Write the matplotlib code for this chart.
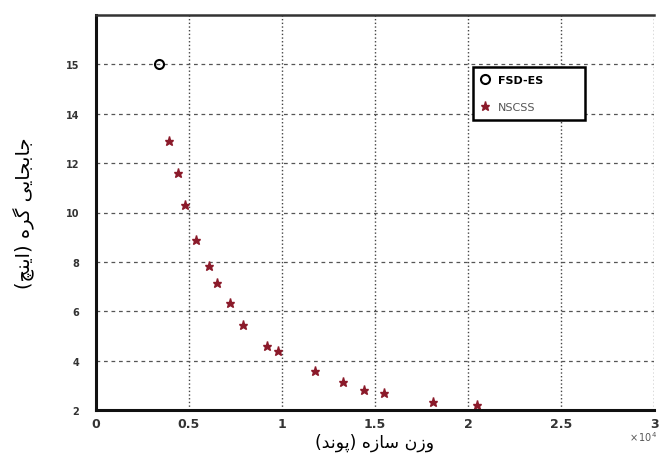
import matplotlib
matplotlib.use("Agg")
import matplotlib.pyplot as plt
from matplotlib.ticker import FuncFormatter

# ----------------------------
# Data
# ----------------------------
fsd_weight = [3400]
fsd_disp = [16.0]

nscss_weight = [3900, 4400, 4800, 5400, 6100, 6500, 7200, 7900,
                9200, 9800, 11800, 13300, 14400, 15500, 18100, 20500]
nscss_disp = [12.9, 11.6, 10.3, 8.87, 7.82, 7.13, 6.35, 5.46,
              4.6, 4.4, 3.6, 3.14, 2.81, 2.69, 2.33, 2.2]

y_ticks = [2, 4, 6, 8, 10, 12, 14, 16]
y_tick_labels = ['2', '4', '6', '8', '10', '12', '14', '15']
x_ticks = [0, 5000, 10000, 15000, 20000, 25000, 30000]

x_label = "وزن سازه (پوند)"
y_label = "جابجایی گره (اینچ)"

# ----------------------------
# Minimal Persian shaping (no raqm in matplotlib)
# ----------------------------
# isolated, final, initial, medial
FORMS = {
    'ا': ('\uFE8D', '\uFE8E', None, None),
    'ب': ('\uFE8F', '\uFE90', '\uFE91', '\uFE92'),
    'پ': ('\uFB56', '\uFB57', '\uFB58', '\uFB59'),
    'ج': ('\uFE9D', '\uFE9E', '\uFE9F', '\uFEA0'),
    'چ': ('\uFB7A', '\uFB7B', '\uFB7C', '\uFB7D'),
    'د': ('\uFEA9', '\uFEAA', None, None),
    'ر': ('\uFEAD', '\uFEAE', None, None),
    'ز': ('\uFEAF', '\uFEB0', None, None),
    'س': ('\uFEB1', '\uFEB2', '\uFEB3', '\uFEB4'),
    'گ': ('\uFB92', '\uFB93', '\uFB94', '\uFB95'),
    'ن': ('\uFEE5', '\uFEE6', '\uFEE7', '\uFEE8'),
    'ه': ('\uFEE9', '\uFEEA', '\uFEEB', '\uFEEC'),
    'و': ('\uFEED', '\uFEEE', None, None),
    'ی': ('\uFBFC', '\uFBFD', '\uFBFE', '\uFBFF'),
}


def shape(text):
    out = []
    n = len(text)
    for i, ch in enumerate(text):
        if ch not in FORMS:
            out.append(ch)
            continue
        prev = text[i - 1] if i > 0 else None
        nxt = text[i + 1] if i < n - 1 else None
        join_prev = prev in FORMS and FORMS[prev][2] is not None
        join_next = nxt in FORMS and FORMS[ch][2] is not None
        iso, fin, ini, med = FORMS[ch]
        if join_prev and join_next:
            out.append(med)
        elif join_prev:
            out.append(fin)
        elif join_next:
            out.append(ini)
        else:
            out.append(iso)
    vis = ''.join(out)[::-1]
    return vis.translate(str.maketrans('()', ')('))


# ----------------------------
# Plot
# ----------------------------
fig = plt.figure(figsize=(6.6, 4.56), dpi=100)
ax = fig.add_axes([96 / 660, 1 - 411 / 456, 558 / 660, 395 / 456])

ax.plot(fsd_weight, fsd_disp, 'o', mfc='none', mec='black', mew=1.5,
        markersize=6.5, linestyle='none', label='FSD-ES')
ax.plot(nscss_weight, nscss_disp, '*', color='#8b1a2a', markersize=6.5,
        linestyle='none', label='NSCSS')

ax.set_xlim(0, 30000)
ax.set_ylim(2, 18)
ax.set_xticks(x_ticks)
ax.set_yticks(y_ticks, labels=y_tick_labels)
ax.xaxis.set_major_formatter(FuncFormatter(lambda v, pos: f"{v / 1e4:g}"))

ax.tick_params(axis='both', length=0, colors='#333333')
ax.tick_params(axis='y', labelsize=7, pad=12)
ax.tick_params(axis='x', labelsize=9, pad=5)
for lab in ax.get_xticklabels() + ax.get_yticklabels():
    lab.set_fontweight('bold')

ax.xaxis.grid(True, linestyle=':', color='#444444', linewidth=1.0)
ax.yaxis.grid(True, linestyle=(0, (3, 3)), color='#555555', linewidth=0.9)

for side in ['left', 'bottom']:
    ax.spines[side].set_linewidth(2.2)
    ax.spines[side].set_color('#111111')
ax.spines['top'].set_linewidth(1.8)
ax.spines['top'].set_color('#333333')
ax.spines['right'].set_visible(False)

ax.set_xlabel(shape(x_label), fontsize=12.5, family='DejaVu Sans', labelpad=2)
ax.set_ylabel(shape(y_label), fontsize=14, family='DejaVu Sans', labelpad=22)

# multiplier shown under the right end of the x axis
fig.text(657 / 660, 1 - 437 / 456, r"$\times\,10^4$", fontsize=7,
         color='#555555', ha='right', va='center')

leg = ax.legend(loc='upper left', bbox_to_anchor=(0.676, 0.733, 0.2, 0.136),
                mode='expand', fontsize=8, frameon=True, fancybox=False,
                framealpha=1, edgecolor='black', labelspacing=1.6,
                handlelength=0.8, handletextpad=0.7, borderpad=0.7,
                borderaxespad=0)
leg.get_frame().set_linewidth(1.8)
texts = leg.get_texts()
texts[0].set_fontweight('bold')
texts[1].set_color('#555555')

fig.savefig("out.png", dpi=100)
